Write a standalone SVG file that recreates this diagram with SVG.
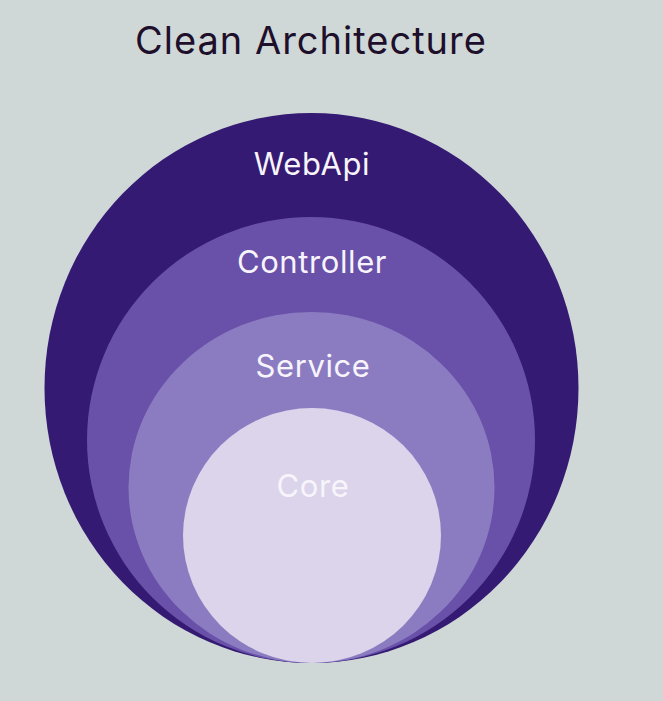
<svg xmlns="http://www.w3.org/2000/svg" width="663" height="701" viewBox="0 0 663 701">
<style>
.lbl{font-family:Inter,"Noto Sans","Liberation Sans",sans-serif;font-size:31px;letter-spacing:0.6px;fill:#f7f4fb;text-anchor:middle}
.title{font-family:Inter,"Noto Sans","Liberation Sans",sans-serif;font-size:38px;letter-spacing:1px;fill:#1e0f2a}
</style>
<rect width="663" height="701" fill="#cfd8d7"/>
<text class="title" x="135" y="54">Clean Architecture</text>
<g id="webapi"><ellipse cx="311.5" cy="388" rx="267" ry="275" fill="#341a72"/><text class="lbl" x="312" y="175">WebApi</text></g>
<g id="controller"><ellipse cx="311" cy="440" rx="224" ry="223" fill="#6950a8"/><text class="lbl" x="312" y="273">Controller</text></g>
<g id="service"><ellipse cx="311.5" cy="487.5" rx="183" ry="175.5" fill="#8b7cc2"/><text class="lbl" x="313" y="377">Service</text></g>
<g id="core"><ellipse cx="312" cy="535.5" rx="129" ry="127.5" fill="#dbd4ea"/><text class="lbl" x="313" y="497">Core</text></g>
<g id="connectors"/>
</svg>
